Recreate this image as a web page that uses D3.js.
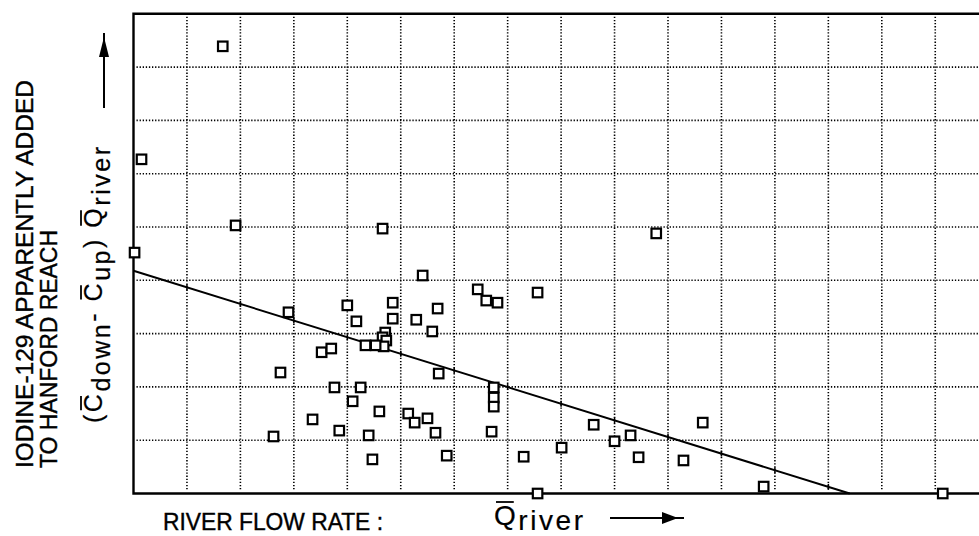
<!DOCTYPE html>
<html>
<head>
<meta charset="utf-8">
<script src="https://cdn.jsdelivr.net/npm/d3@7"></script>
<style>
  body { margin: 0; background: #fff; }
  svg { display: block; }
  text { font-family: "Liberation Sans", Arial, sans-serif; fill: #000; }
</style>
</head>
<body>
<svg id="chart" width="979" height="536"></svg>
<script>
// river flow rate (grid units) and iodine-129 added (grid units)
const flowValues = [1.67, 0.15, 1.91, 0.02, 4.66, 9.78, 2.90, 5.41, 6.44, 6.60,
  6.81, 7.56, 4.00, 4.17, 4.85, 4.85, 5.69, 5.29, 5.59, 4.71,
  4.66, 4.73, 4.68, 4.53, 4.34, 3.52, 3.70, 2.75, 5.71, 3.76,
  4.25, 4.10, 6.74, 6.74, 6.74, 4.60, 3.35, 5.14, 5.26, 5.50,
  5.65, 3.85, 4.40, 2.62, 6.70, 4.47, 5.86, 7.30, 8.01, 8.61,
  9.00, 9.30, 9.45, 10.29, 10.65, 7.56, 11.79, 15.14];
const iodineValues = [8.39, 6.27, 5.03, 4.52, 4.97, 4.88, 3.40, 4.09, 3.83, 3.62,
  3.58, 3.77, 3.53, 3.23, 3.58, 3.28, 3.47, 3.26, 3.04, 3.02,
  2.93, 2.87, 2.76, 2.78, 2.78, 2.65, 2.72, 2.27, 2.25, 1.99,
  1.99, 1.73, 1.99, 1.80, 1.63, 1.54, 1.39, 1.50, 1.33, 1.41,
  1.14, 1.18, 1.09, 1.07, 1.16, 0.64, 0.71, 0.69, 0.86, 1.29,
  0.98, 1.09, 0.68, 0.62, 1.33, 0.00, 0.13, 0.00];
// fitted line end points
const fitFlow = [0, 13.4];
const fitIodine = [4.18, 0];

const svg = d3.select('#chart');
const plotLeft = 133.5, plotTop = 13.8, plotBottom = 493.5;
const unit = 53.45;

const x = d3.scaleLinear().domain([0, 16]).range([plotLeft, plotLeft + 16 * unit]);
const y = d3.scaleLinear().domain([0, 9]).range([plotBottom, plotTop]);

// dotted grid
const grid = svg.append('g')
  .attr('stroke', '#000')
  .attr('stroke-width', 1.6)
  .attr('stroke-dasharray', '1.3,1.8');
grid.selectAll('.vg')
  .data(d3.range(1, 16))
  .enter().append('line')
    .attr('x1', d => x(d)).attr('x2', d => x(d))
    .attr('y1', plotTop + 3).attr('y2', plotBottom - 3);
grid.selectAll('.hg')
  .data(d3.range(1, 9))
  .enter().append('line')
    .attr('y1', d => y(d)).attr('y2', d => y(d))
    .attr('x1', plotLeft + 3).attr('x2', x(16));

// frame
svg.append('path')
  .attr('d', 'M' + x(16) + ',' + plotTop + 'H' + plotLeft + 'V' + plotBottom + 'H' + x(16))
  .attr('fill', 'none')
  .attr('stroke', '#000')
  .attr('stroke-width', 2.4);

// fitted line with little ticks where it crosses the grid
svg.append('line')
  .attr('x1', x(fitFlow[0])).attr('y1', y(fitIodine[0]))
  .attr('x2', x(fitFlow[1])).attr('y2', y(fitIodine[1]))
  .attr('stroke', '#000')
  .attr('stroke-width', 2);
const slope = (fitIodine[1] - fitIodine[0]) / (fitFlow[1] - fitFlow[0]);
svg.selectAll('.ftick')
  .data(d3.range(1, 14))
  .enter().append('line')
    .attr('x1', d => x(d)).attr('x2', d => x(d))
    .attr('y1', d => y(fitIodine[0] + slope * d) - 3)
    .attr('y2', d => y(fitIodine[0] + slope * d) + 3)
    .attr('stroke', '#000')
    .attr('stroke-width', 1.5);

// data squares
const s = 9.5;
svg.selectAll('.pt')
  .data(flowValues.map((f, i) => [f, iodineValues[i]]))
  .enter().append('rect')
    .attr('x', d => x(d[0]) - s / 2)
    .attr('y', d => y(d[1]) - s / 2)
    .attr('width', s).attr('height', s)
    .attr('fill', '#fff')
    .attr('stroke', '#000')
    .attr('stroke-width', 2.2);

// y axis title
const yl = svg.append('g');
yl.append('text')
  .attr('transform', 'translate(33,468) rotate(-90)')
  .attr('font-size', 24)
  .attr('stroke', '#000').attr('stroke-width', 0.4)
  .attr('textLength', 388).attr('lengthAdjust', 'spacingAndGlyphs')
  .text('IODINE-129 APPARENTLY ADDED');
yl.append('text')
  .attr('transform', 'translate(57,468) rotate(-90)')
  .attr('font-size', 24)
  .attr('stroke', '#000').attr('stroke-width', 0.4)
  .attr('textLength', 238).attr('lengthAdjust', 'spacingAndGlyphs')
  .text('TO HANFORD REACH');

function formula(g, parts, fs, len, sub) {
  // parts: [text, sub shift, overbar]
  const t = g.append('text').attr('font-size', fs)
    .attr('stroke', '#000').attr('stroke-width', 0.2);
  if (len) t.attr('textLength', len).attr('lengthAdjust', 'spacing');
  parts.forEach(p => {
    t.append('tspan')
      .attr('dy', p[1] === 1 ? fs * sub : (p[1] === -1 ? -fs * sub : 0))
      .text(p[0]);
  });
  let idx = 0;
  const node = t.node();
  parts.forEach(p => {
    if (p[2]) {
      const b = node.getExtentOfChar(idx);
      g.append('line')
        .attr('x1', b.x + 2).attr('x2', b.x + b.width - 2)
        .attr('y1', b.y + 2).attr('y2', b.y + 2)
        .attr('stroke', '#000').attr('stroke-width', 1.8);
    }
    idx += p[0].length;
  });
  return t;
}

const f3 = yl.append('g').attr('transform', 'translate(102,423) rotate(-90)');
formula(f3, [
  ['(', 0, false], ['C', 0, true], ['down', 1, false], ['- ', -1, false],
  ['C', 0, true], ['up', 1, false], [') ', -1, false], ['Q', 0, true], ['river', 1, false]
], 25, 276, 0.3);

// y arrow
svg.append('line')
  .attr('x1', 104).attr('x2', 104).attr('y1', 33).attr('y2', 108)
  .attr('stroke', '#000').attr('stroke-width', 2);
svg.append('path')
  .attr('d', 'M104,37 L109,57 L99,57 Z')
  .attr('fill', '#000');

// x axis title
svg.append('text')
  .attr('x', 163).attr('y', 530)
  .attr('font-size', 23)
  .attr('stroke', '#000').attr('stroke-width', 0.4)
  .attr('textLength', 220).attr('lengthAdjust', 'spacingAndGlyphs')
  .text('RIVER FLOW RATE :');
const fx = svg.append('g').attr('transform', 'translate(494,525)');
formula(fx, [['Q', 0, true], ['river', 1, false]], 28, 89, 0.18);

svg.append('line')
  .attr('x1', 610).attr('x2', 684).attr('y1', 518).attr('y2', 518)
  .attr('stroke', '#000').attr('stroke-width', 2);
svg.append('path')
  .attr('d', 'M678,518 L662,512 L662,524 Z')
  .attr('fill', '#000');
</script>
</body>
</html>
